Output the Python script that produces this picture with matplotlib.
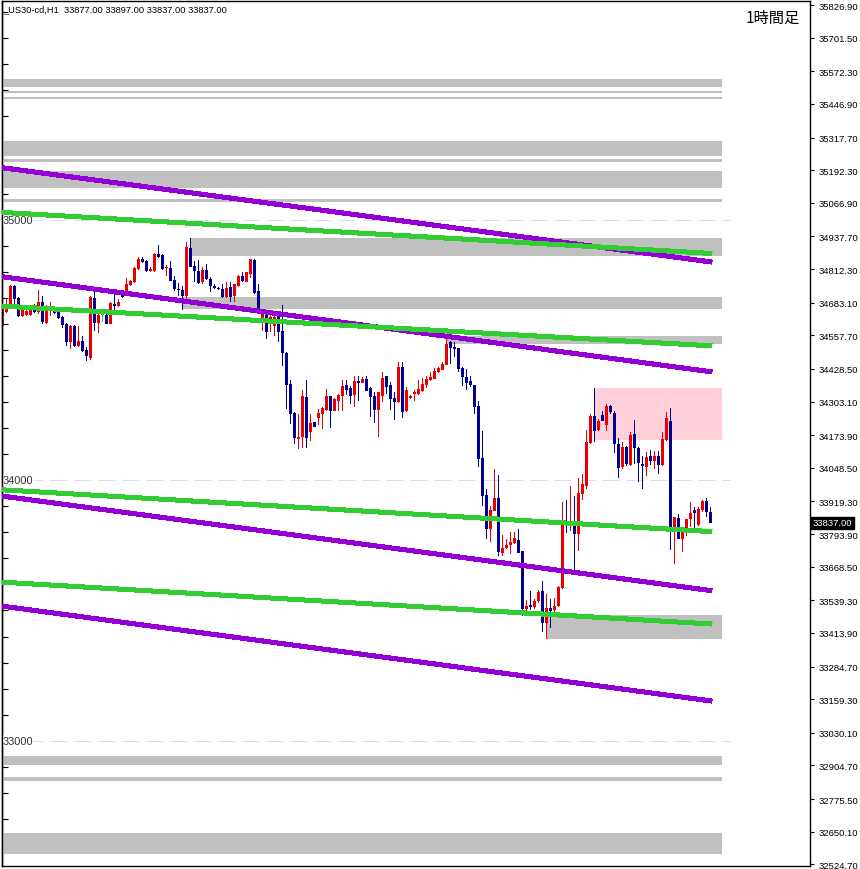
import matplotlib
matplotlib.use("Agg")
import matplotlib.pyplot as plt
import matplotlib.transforms as mtransforms
from matplotlib.patches import Rectangle
import numpy as np

# ---------------- data ----------------
header_text = "_US30-cd,H1  33877.00 33897.00 33837.00 33837.00"
timeframe_text = "1時間足"
last_price = 33837.00

opens = [34593, 34647, 34678, 34747, 34701, 34632, 34636, 34636, 34674, 34647,
         34686, 34605, 34651, 34663, 34647, 34628, 34601, 34532, 34593, 34517,
         34536, 34501, 34470, 34701, 34605, 34636, 34636, 34601, 34678, 34670,
         34716, 34716, 34751, 34762, 34812, 34851, 34843, 34805, 34805, 34870,
         34866, 34816, 34816, 34770, 34735, 34732, 34709, 34893, 34824, 34805,
         34762, 34808, 34774, 34747, 34739, 34735, 34705, 34743, 34709, 34747,
         34785, 34762, 34793, 34847, 34728, 34613, 34639, 34605, 34593, 34632,
         34574, 34489, 34370, 34259, 34159, 34167, 34320, 34186, 34224, 34240,
         34255, 34270, 34324, 34267, 34305, 34324, 34367, 34355, 34328, 34382,
         34374, 34390, 34355, 34324, 34270, 34324, 34401, 34367, 34317, 34301,
         34436, 34267, 34317, 34332, 34332, 34343, 34367, 34386, 34390, 34417,
         34424, 34443, 34532, 34513, 34509, 34432, 34397, 34382, 34367, 34286,
         34086, 33944, 33813, 33882, 33932, 33721, 33740, 33752, 33759, 33771,
         33729, 33506, 33521, 33514, 33537, 33575, 33452, 33510, 33502, 33517,
         33586, 33836, 33825, 33829, 33794, 33948, 33979, 34144, 34247, 34194,
         34251, 34213, 34286, 34259, 34140, 34051, 34128, 34059, 34178, 34124,
         34063, 34051, 34094, 34075, 34094, 34059, 34155, 34228, 33821, 33855,
         33775, 33798, 33852, 33886, 33829, 33886, 33921, 33877]
highs = [34682, 34697, 34751, 34751, 34705, 34666, 34655, 34674, 34678, 34732,
         34709, 34674, 34686, 34666, 34659, 34632, 34605, 34597, 34597, 34593,
         34555, 34513, 34709, 34724, 34651, 34647, 34647, 34686, 34720, 34697,
         34724, 34778, 34770, 34820, 34858, 34858, 34847, 34820, 34874, 34905,
         34870, 34828, 34843, 34785, 34759, 34747, 34916, 34931, 34843, 34847,
         34820, 34832, 34782, 34755, 34743, 34755, 34762, 34762, 34755, 34789,
         34801, 34801, 34851, 34851, 34755, 34651, 34647, 34636, 34632, 34651,
         34674, 34493, 34386, 34263, 34255, 34347, 34386, 34255, 34224, 34274,
         34282, 34351, 34324, 34317, 34332, 34386, 34386, 34363, 34401, 34401,
         34397, 34401, 34359, 34340, 34340, 34417, 34401, 34378, 34340, 34455,
         34455, 34359, 34328, 34347, 34386, 34394, 34401, 34417, 34432, 34436,
         34455, 34543, 34536, 34532, 34509, 34436, 34428, 34401, 34367, 34305,
         34190, 33967, 33902, 34044, 34021, 33790, 33775, 33802, 33802, 33813,
         33729, 33540, 33575, 33544, 33579, 33613, 33563, 33544, 33548, 33594,
         33917, 33925, 33978, 33940, 34009, 34025, 34194, 34255, 34355, 34236,
         34267, 34294, 34290, 34267, 34163, 34148, 34132, 34186, 34232, 34128,
         34094, 34109, 34117, 34113, 34113, 34186, 34263, 34278, 33859, 33871,
         33821, 33852, 33917, 33898, 33898, 33925, 33932, 33897]
lows = [34590, 34643, 34674, 34678, 34628, 34628, 34632, 34632, 34643, 34639,
        34601, 34601, 34632, 34639, 34620, 34586, 34517, 34505, 34513, 34513,
        34493, 34459, 34463, 34574, 34566, 34609, 34601, 34601, 34655, 34666,
        34701, 34712, 34747, 34759, 34808, 34835, 34801, 34801, 34801, 34855,
        34808, 34785, 34766, 34728, 34709, 34655, 34697, 34820, 34762, 34755,
        34755, 34770, 34724, 34735, 34732, 34701, 34701, 34686, 34686, 34743,
        34762, 34762, 34778, 34716, 34639, 34574, 34543, 34570, 34555, 34532,
        34440, 34274, 34217, 34140, 34121, 34124, 34124, 34151, 34205, 34213,
        34198, 34267, 34201, 34267, 34267, 34267, 34328, 34294, 34282, 34305,
        34374, 34343, 34244, 34221, 34167, 34301, 34332, 34270, 34232, 34297,
        34240, 34263, 34313, 34305, 34328, 34340, 34355, 34382, 34390, 34413,
        34424, 34443, 34447, 34474, 34417, 34363, 34347, 34359, 34255, 34051,
        33902, 33775, 33763, 33882, 33709, 33709, 33736, 33717, 33755, 33721,
        33479, 33498, 33502, 33506, 33529, 33417, 33390, 33433, 33494, 33514,
        33583, 33798, 33805, 33648, 33729, 33925, 33967, 34140, 34148, 34190,
        34228, 34190, 34255, 34105, 34009, 34044, 34055, 34055, 34063, 33994,
        33967, 34017, 34059, 34044, 34025, 34055, 34151, 33732, 33679, 33775,
        33725, 33786, 33821, 33813, 33825, 33879, 33859, 33837]
closes = [34678, 34678, 34747, 34697, 34632, 34659, 34651, 34670, 34647, 34686,
          34609, 34670, 34670, 34643, 34624, 34597, 34532, 34593, 34517, 34536,
          34497, 34478, 34705, 34605, 34636, 34636, 34601, 34682, 34670, 34686,
          34705, 34755, 34766, 34816, 34851, 34839, 34805, 34812, 34870, 34858,
          34812, 34820, 34766, 34735, 34732, 34709, 34897, 34820, 34805, 34759,
          34808, 34774, 34747, 34739, 34735, 34705, 34739, 34705, 34755, 34785,
          34766, 34801, 34851, 34720, 34651, 34639, 34570, 34628, 34628, 34570,
          34489, 34367, 34255, 34163, 34167, 34324, 34163, 34221, 34205, 34259,
          34278, 34324, 34267, 34313, 34328, 34363, 34347, 34324, 34382, 34374,
          34390, 34343, 34320, 34270, 34340, 34394, 34359, 34313, 34301, 34436,
          34263, 34347, 34324, 34340, 34351, 34370, 34390, 34397, 34420, 34432,
          34447, 34524, 34509, 34505, 34428, 34397, 34374, 34367, 34282, 34082,
          33940, 33813, 33886, 33932, 33725, 33740, 33752, 33763, 33779, 33721,
          33506, 33517, 33514, 33537, 33571, 33452, 33510, 33498, 33517, 33590,
          33832, 33825, 33844, 33794, 33952, 33986, 34148, 34247, 34190, 34228,
          34228, 34286, 34263, 34140, 34048, 34128, 34063, 34174, 34124, 34067,
          34055, 34090, 34075, 34094, 34059, 34159, 34240, 33821, 33859, 33775,
          33817, 33852, 33875, 33875, 33890, 33921, 33879, 33837]

# price-axis labels shown on the right
price_ticks = [35826.90, 35701.50, 35572.30, 35446.90, 35317.70, 35192.30,
               35066.90, 34937.70, 34812.30, 34683.10, 34557.70, 34428.50,
               34303.10, 34173.90, 34048.50, 33919.30, 33793.90, 33668.50,
               33539.30, 33413.90, 33284.70, 33159.30, 33030.10, 32904.70,
               32775.50, 32650.10, 32524.70]

# round-number levels
round_levels = [35000, 34000, 33000]

# horizontal zones (bottom price, top price, start bar, end bar)
zone_bottoms = [35512, 35490, 35467, 35248, 35222, 35125, 35069, 34863,
                34659, 34524, 33390, 32907, 32845, 32564]
zone_tops = [35542, 35498, 35474, 35303, 35234, 35189, 35081, 34931,
             34704, 34555, 33483, 32941, 32859, 32644]
zone_starts = [-1, -1, -1, -1, -1, -1, -1, 46.9,
               45.2, 111.2, 135.9, -1, -1, -1]
zone_ends = [179.9] * 14

pink_zone = (34155, 34355, 147.9, 179.9)

# trend lines: start / end prices between bars line_x0 and line_x1
purple_start = [35202, 34783, 33940, 33517]
purple_end = [34839, 34417, 33576, 33152]
green_start = [35030, 34670, 33964, 33609]
green_end = [34872, 34517, 33803, 33448]
line_x0, line_x1 = -0.2, 177.4

# ---------------- figure ----------------
W, H = 860, 870
fig = plt.figure(figsize=(W / 100, H / 100), dpi=100)
left_px, right_px, top_px, bot_px = 1.5, 810.0, 1.5, 866.7
ax = fig.add_axes([left_px / W, (H - bot_px) / H,
                   (right_px - left_px) / W, (bot_px - top_px) / H])

px_per_bar = 4.0
x0_px = 2.3
ax.set_xlim((left_px - x0_px) / px_per_bar, (right_px - x0_px) / px_per_bar)
pp = 3.843
top_price = 35849.96 - pp * top_px
bot_price = 35849.96 - pp * bot_px

trans = mtransforms.blended_transform_factory(ax.transAxes, ax.transData)

# round-number dashed lines
for lv in round_levels:
    ax.plot([-0.075, 181.9], [lv, lv], color="#DCDCF6", lw=0.72,
            linestyle=(0, (17, 7)), zorder=0.5)
    ax.text(1.5 / 808.5, lv, str(lv), transform=trans,
            ha="left", va="center", fontsize=7.9, color="#333333",
            family=["Liberation Sans", "DejaVu Sans"], zorder=0.6,
            bbox=dict(boxstyle="square,pad=0.05", fc="white", ec="none"))

# zones
for b, t, s, e in zip(zone_bottoms, zone_tops, zone_starts, zone_ends):
    ax.add_patch(Rectangle((s, b), e - s, t - b, fc="#C0C0C0", ec="none",
                           zorder=1, antialiased=False))
pb, pt, ps, pe = pink_zone
ax.add_patch(Rectangle((ps, pb), pe - ps, pt - pb, fc="#FFD0DA", ec="none",
                       zorder=1, antialiased=False))

# candles
o = np.array(opens, float)
h = np.array(highs, float)
l = np.array(lows, float)
c = np.array(closes, float)
idx = np.arange(len(o))
cols = np.where(c > o, "#E80000", np.where(c < o, "#000090", "#32CD32"))
# wicks (1 px wide)
ax.bar(idx, h - l, bottom=l, width=0.26, color=cols, linewidth=0,
       zorder=2, antialiased=False)
# bodies (3 px wide)
body_b = np.minimum(o, c)
body_h = np.maximum(np.abs(c - o), 3.0)
ax.bar(idx, body_h, bottom=body_b, width=0.75, color=cols, linewidth=0,
       zorder=2.1, antialiased=False)

# trend lines
for s0, s1 in zip(purple_start, purple_end):
    ax.plot([line_x0, line_x1], [s0, s1], color="#9400D3", lw=2.9,
            solid_capstyle="butt", zorder=3, antialiased=False)
for s0, s1 in zip(green_start, green_end):
    ax.plot([line_x0, line_x1], [s0, s1], color="#32CD32", lw=2.9,
            solid_capstyle="butt", zorder=3, antialiased=False)

# axes styling
for sp in ax.spines.values():
    sp.set_color("black")
    sp.set_linewidth(1.0)
ax.set_xticks([])
ax.yaxis.tick_right()
ax.set_yticks(price_ticks)
ax.set_yticklabels([f"{v:.2f}" for v in price_ticks])
ax.tick_params(axis="y", direction="out", length=3, width=0.8, pad=3,
               labelsize=6.8, colors="black")
for lab in ax.get_yticklabels():
    lab.set_family(["Liberation Sans", "DejaVu Sans"])
ax.set_ylim(bot_price, top_price)

sec = ax.secondary_yaxis("left")
sec.set_yticks(np.arange(32600, 35900, 100))
sec.set_yticklabels([])
sec.tick_params(direction="in", length=4, width=0.8)
sec.spines["left"].set_linewidth(1.0)

# current price label
ax.text((812.5 - left_px) / (right_px - left_px), last_price, f"{last_price:.2f}",
        transform=trans, ha="left", va="center", fontsize=6.8, color="white",
        family=["Liberation Sans", "DejaVu Sans"], zorder=10, clip_on=False,
        bbox=dict(boxstyle="square,pad=0.18", fc="black", ec="black"))

# header and timeframe label
ax.text((3 - left_px) / (right_px - left_px), 1 - (9.5 - top_px) / (bot_px - top_px),
        header_text, transform=ax.transAxes, ha="left", va="center",
        fontsize=6.7, color="black", family=["Liberation Sans", "DejaVu Sans"], zorder=10)
ax.text((800 - left_px) / (right_px - left_px), 1 - (18.5 - top_px) / (bot_px - top_px),
        timeframe_text, transform=ax.transAxes, ha="right", va="center",
        fontsize=11, color="black", family=["Noto Sans CJK JP", "DejaVu Sans"], zorder=10)

fig.savefig("out.png", dpi=100, facecolor="white")
